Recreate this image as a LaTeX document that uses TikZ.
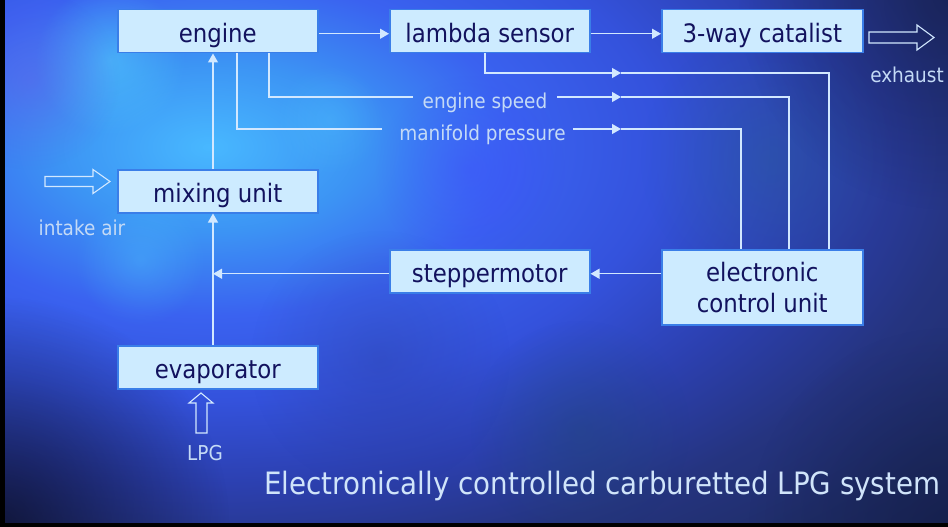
\documentclass[tikz,border=0pt]{standalone}
\usepackage{fontspec}
\setmainfont{DejaVu Sans}[FakeStretch=0.9]
\usetikzlibrary{arrows.meta,calc,fadings}
\definecolor{boxfill}{HTML}{CDEBFF}
\definecolor{boxline}{HTML}{3A7EE8}
\definecolor{boxtext}{HTML}{12125E}
\definecolor{wire}{HTML}{D2E8FF}
\definecolor{lblc}{HTML}{C4DAF6}
\definecolor{ttlc}{HTML}{D0E4FA}
\definecolor{bgA}{HTML}{48B8FF}
\definecolor{bgB}{HTML}{3C94F4}
\definecolor{bgC}{HTML}{3A62F0}
\definecolor{bgD}{HTML}{3452DC}
\definecolor{bgE}{HTML}{2C40B0}
\definecolor{bgF}{HTML}{253480}
\definecolor{bgG}{HTML}{1F2D68}
\definecolor{bgH}{HTML}{1A2658}
\definecolor{bgI}{HTML}{111A3C}
\definecolor{bgJ}{HTML}{080A1C}
\definecolor{blcyan}{HTML}{55D5FF}
\definecolor{blcyanb}{HTML}{4EC8FF}
\definecolor{blcyanc}{HTML}{50C8FF}
\definecolor{blviolet}{HTML}{4048FF}
\definecolor{blpurple}{HTML}{6A5CE8}
\definecolor{blteal}{HTML}{2A6A8A}
\definecolor{bltealb}{HTML}{1E4A6A}
\definecolor{blnavy}{HTML}{2A3A90}
\definecolor{bldark}{HTML}{05050F}
\definecolor{bldarkb}{HTML}{0A0F2A}
\pgfdeclareradialshading{bgsh}{\pgfpoint{0bp}{0bp}}{%
  color(0bp)=(bgA); color(4bp)=(bgB); color(8bp)=(bgC); color(12bp)=(bgD);
  color(16bp)=(bgE); color(20bp)=(bgF); color(24bp)=(bgG); color(29bp)=(bgH);
  color(35bp)=(bgI); color(46bp)=(bgJ)}
\tikzfading[name=softc, inner color=transparent!0, outer color=transparent!100]
\tikzset{
  boxbase/.style={draw=boxline, line width=1.5pt, fill=boxfill, text=boxtext,
    minimum width=200pt, minimum height=43pt, inner sep=0pt, anchor=north west,
    font=\fontsize{25.4}{31}\selectfont},
  onebox/.style={boxbase, text height=22pt, text depth=0pt},
  conn/.style={draw=wire, line width=1.2pt},
  tip/.style={-{Triangle[length=9pt,width=10pt]}},
  lbl/.style={text=lblc, font=\fontsize{20.5}{24}\selectfont, inner sep=0pt, anchor=base},
  ttl/.style={text=ttlc, font=\fontsize{30.8}{36}\selectfont, inner sep=0pt, anchor=base west},
  blockarrow/.style={draw=wire, line width=1.1pt, line join=miter},
  blob/.style={fill=#1, path fading=softc}
}
\begin{document}
\begin{tikzpicture}[x=1pt,y=-1pt]
\useasboundingbox (0,0) rectangle (948,527);
% background
\begin{scope}
\clip (0,0) rectangle (948,527);
\shade[shading=bgsh] (-739,-380) rectangle (1157,674);
\fill[blob=blcyan, opacity=0.50] (110,60) circle (75);
\fill[blob=blcyanb, opacity=0.35] (140,260) circle (65);
\fill[blob=blcyanc, opacity=0.30] (330,120) circle (55);
\fill[blob=blviolet, opacity=0.40] (470,170) circle (95);
\fill[blob=blpurple, opacity=0.40] (30,80) circle (90);
\fill[blob=blteal, opacity=0.30] (770,160) circle (130);
\fill[blob=bltealb, opacity=0.35] (580,430) circle (110);
\fill[blob=blnavy, opacity=0.30] (380,360) circle (130);
\fill[blob=bldark, opacity=0.65] (0,527) circle (230);
\fill[blob=bldarkb, opacity=0.40] (948,0) circle (210);
\fill[blob=bldarkb, opacity=0.35] (948,527) circle (200);
\end{scope}
\fill[black] (0,0) rectangle (5,527);
\fill[black] (0,523) rectangle (948,527);

% boxes
\node[onebox] (engine) at (117,9) {engine};
\node[onebox] (lambda) at (389,9) {lambda sensor};
\node[onebox, minimum width=201pt] (cat) at (661,9) {3-way catalist};
\node[onebox] (mix) at (117,169) {mixing unit};
\node[onebox] (stepper) at (389,249) {steppermotor};
\node[boxbase, minimum width=201pt, minimum height=75pt, align=center] (ecu) at (661,249) {electronic\\control unit};
\node[onebox] (evap) at (117,345) {evaporator};

% main flow
\draw[conn,tip] ([yshift=-2.5pt]engine.east) -- ([yshift=-2.5pt]lambda.west);
\draw[conn,tip] ([yshift=-2.5pt]lambda.east) -- ([yshift=-2.5pt]cat.west);
\draw[conn,tip] ($(mix.north west)+(96,0)$) -- ($(engine.south west)+(96,0)$);
\coordinate (jn) at ($(mix.south west)+(96,0)$);
\draw[conn,tip] ($(evap.north west)+(96,0)$) -- (jn);
\draw[conn,tip] ([yshift=-2.5pt]stepper.west) -- ([yshift=-2.5pt]stepper.west -| jn);
\draw[conn,tip] ([yshift=-2.5pt]stepper.east -| ecu.west) -- ([yshift=-2.5pt]stepper.east);

% lambda signal
\coordinate (la) at (621,73);
\draw[conn,tip] ($(lambda.south west)+(96,0)$) |- (la);
\draw[conn] (la) -| ($(ecu.north west)+(168,0)$);

% engine speed
\coordinate (es1) at (413,97);
\coordinate (es2) at (557,97);
\coordinate (esa) at (621,97);
\draw[conn] ($(engine.south west)+(152,0)$) |- (es1);
\node[lbl] (esl) at (485,108) {engine speed};
\draw[conn,tip] (es2) -- (esa);
\draw[conn] (esa) -| ($(ecu.north west)+(128,0)$);

% manifold pressure
\coordinate (mp1) at (382,129);
\coordinate (mp2) at (573,129);
\coordinate (mpa) at (621,129);
\draw[conn] ($(engine.south west)+(120,0)$) |- (mp1);
\node[lbl] (mpl) at (482.5,140) {manifold pressure};
\draw[conn,tip] (mp2) -- (mpa);
\draw[conn] (mpa) -| ($(ecu.north west)+(80,0)$);

% block arrows
\draw[blockarrow] (869,32) -- (917,32) -- (917,25) -- (934,37.5) -- (917,50) -- (917,43) -- (869,43) -- cycle;
\draw[blockarrow] (45,176.5) -- (93,176.5) -- (93,169.5) -- (110,181.5) -- (93,193.5) -- (93,186.5) -- (45,186.5) -- cycle;
\draw[blockarrow] (196,433) -- (196,403) -- (189,403) -- (201,393) -- (213,403) -- (207,403) -- (207,433) -- cycle;

% labels
\node[lbl] (exh) at (907,83) {exhaust};
\node[lbl] (air) at (82,235) {intake air};
\node[lbl] (lpg) at (205,460) {LPG};
\node[ttl] (title) at (264,494) {Electronically controlled carburetted LPG system};
\end{tikzpicture}
\end{document}
